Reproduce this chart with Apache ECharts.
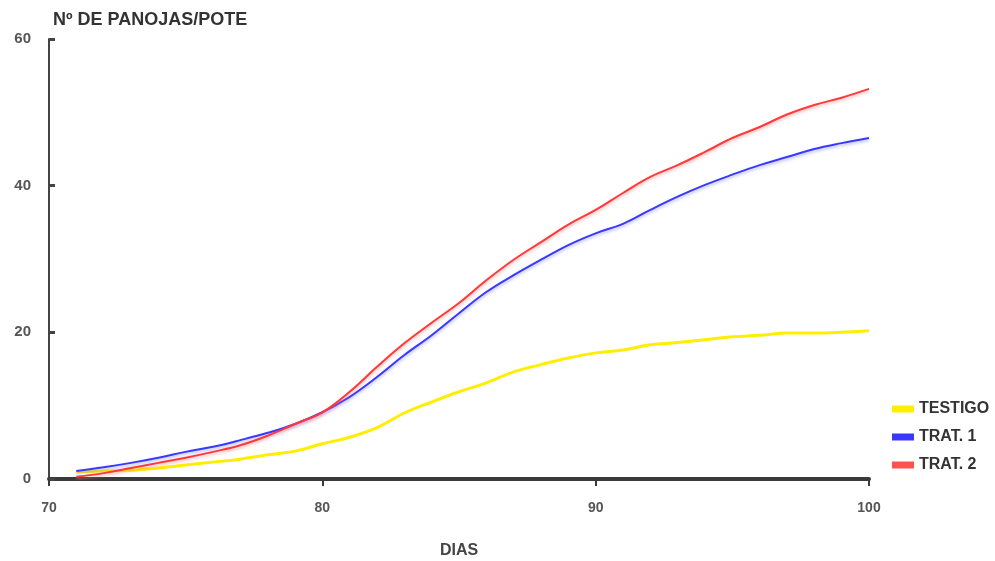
<!DOCTYPE html>
<html><head><meta charset="utf-8">
<script src="https://cdn.jsdelivr.net/npm/echarts@6/dist/echarts.min.js"></script>
<style>html,body{margin:0;padding:0;background:#fff}#c{width:995px;height:561px}</style>
</head><body><div id="c"></div>
<script>
const days = [71,72,73,74,75,76,77,78,79,80,81,82,83,84,85,86,87,88,89,90,91,92,93,94,95,96,97,98,99,100];
const testigo = [1.0,1.1,1.2,1.5,1.9,2.3,2.7,3.3,3.8,4.8,5.7,7.0,9.0,10.5,11.9,13.1,14.6,15.6,16.5,17.2,17.6,18.3,18.6,19.0,19.4,19.6,19.9,19.9,20.0,20.2];
const trat1 = [1.1,1.6,2.2,2.9,3.7,4.4,5.3,6.3,7.5,9.1,11.2,13.9,16.9,19.6,22.6,25.5,27.8,29.9,31.9,33.5,34.8,36.7,38.5,40.1,41.5,42.8,43.9,45.0,45.8,46.5];
const trat2 = [0.3,0.8,1.5,2.2,2.9,3.7,4.6,5.9,7.5,9.1,11.9,15.3,18.5,21.3,24.0,27.1,29.9,32.3,34.7,36.7,39.0,41.2,42.8,44.6,46.5,48.0,49.7,51.0,52.0,53.2];
const yTicks = [0,20,40,60];
const xTicks = [70,80,90,100];
const names = ['TESTIGO','TRAT. 1','TRAT. 2'];

const pair = arr => days.map((d,i)=>[d,arr[i]]);
const chart = echarts.init(document.getElementById('c'));
const font = 'Liberation Sans, Arial, sans-serif';
chart.setOption({
  animation:false,
  backgroundColor:'#fff',
  title:{text:'Nº DE PANOJAS/POTE',left:48,top:6,textStyle:{fontFamily:font,fontSize:18,fontWeight:'bold',color:'#333'}},
  grid:{left:49,right:126,top:39,bottom:82,outerBoundsMode:'none',containLabel:false},
  legend:{orient:'vertical',left:887,top:396,itemGap:12,itemWidth:22,itemHeight:7,
    textStyle:{fontFamily:font,fontSize:16,fontWeight:'bold',color:'#333'},
    data:names.map(n=>({name:n,icon:'rect'}))},
  xAxis:{type:'value',min:70,max:100,interval:10,
    name:'DIAS',nameLocation:'middle',nameGap:64,
    nameTextStyle:{fontFamily:font,fontSize:16,fontWeight:'bold',color:'#444'},
    axisLine:{lineStyle:{color:'#3a3a3a',width:4}},
    axisTick:{show:true,length:7,lineStyle:{color:'#3a3a3a',width:2}},
    axisLabel:{fontFamily:font,fontSize:14,fontWeight:'bold',color:'#555',margin:22,
      formatter:v=>xTicks.includes(v)?String(v):''},
    splitLine:{show:false}},
  yAxis:{type:'value',min:0,max:60,interval:20,
    axisLine:{show:true,lineStyle:{color:'#444',width:2}},
    axisTick:{show:true,inside:true,length:6,lineStyle:{color:'#444',width:3}},
    axisLabel:{fontFamily:font,fontSize:15,fontWeight:'bold',color:'#555',margin:18,
      formatter:v=>yTicks.includes(v)?String(v):''},
    splitLine:{show:false}},
  series:[
    {name:names[0],type:'line',smooth:0.4,symbol:'none',data:pair(testigo),
      lineStyle:{color:'#ffee00',width:3},itemStyle:{color:'#ffee00'}},
    {name:names[1],type:'line',smooth:0.4,symbol:'none',data:pair(trat1),
      lineStyle:{color:'#3838ff',width:2,shadowColor:'rgba(120,120,255,0.5)',shadowBlur:3,shadowOffsetY:2},itemStyle:{color:'#3838ff'}},
    {name:names[2],type:'line',smooth:0.4,symbol:'none',data:pair(trat2),
      lineStyle:{color:'#ff3838',width:2,shadowColor:'rgba(255,120,120,0.5)',shadowBlur:3,shadowOffsetY:2},itemStyle:{color:'#ff5050'}}
  ]
});
</script></body></html>
